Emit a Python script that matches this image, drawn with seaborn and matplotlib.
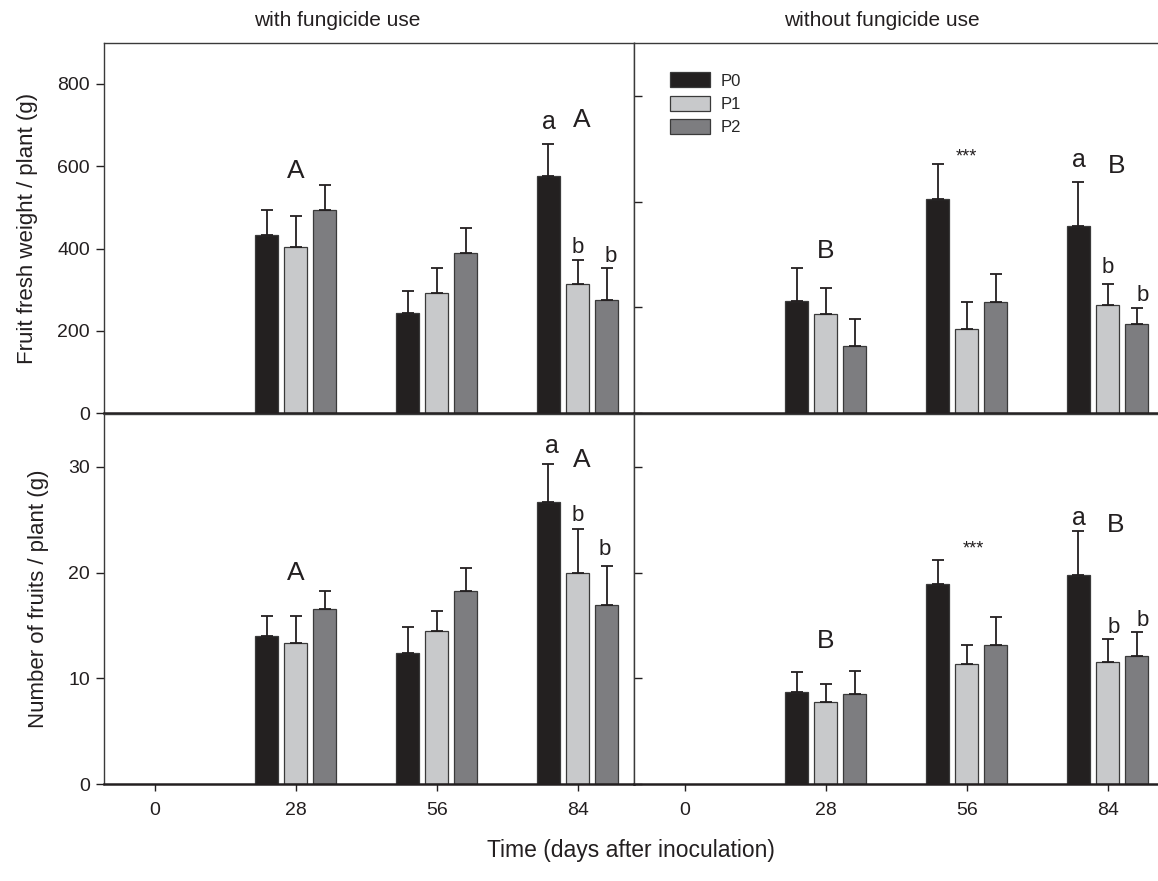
import numpy as np
import pandas as pd
import matplotlib
matplotlib.use("Agg")
import matplotlib.pyplot as plt
from matplotlib.container import BarContainer
import seaborn as sns

# ---------------- data ----------------
days = ["0", "28", "56", "84"]
data_days = ["28", "56", "84"]
groups = ["P0", "P1", "P2"]

# Fruit fresh weight / plant (g), with fungicide
fw_with_P0 = [433, 244, 577]
fw_with_P1 = [404, 292, 314]
fw_with_P2 = [495, 390, 276]
fw_with_P0_err = [61, 54, 78]
fw_with_P1_err = [76, 60, 59]
fw_with_P2_err = [60, 60, 76]

# Fruit fresh weight / plant (g), without fungicide
fw_without_P0 = [274, 520, 455]
fw_without_P1 = [241, 204, 263]
fw_without_P2 = [163, 271, 216]
fw_without_P0_err = [78, 85, 106]
fw_without_P1_err = [64, 66, 52]
fw_without_P2_err = [65, 68, 39]

# Number of fruits / plant, with fungicide
nf_with_P0 = [14.0, 12.4, 26.7]
nf_with_P1 = [13.35, 14.5, 20.0]
nf_with_P2 = [16.55, 18.3, 16.95]
nf_with_P0_err = [1.9, 2.5, 3.6]
nf_with_P1_err = [2.55, 1.9, 4.1]
nf_with_P2_err = [1.75, 2.1, 3.65]

# Number of fruits / plant, without fungicide
nf_without_P0 = [8.7, 18.95, 19.8]
nf_without_P1 = [7.75, 11.4, 11.6]
nf_without_P2 = [8.55, 13.15, 12.15]
nf_without_P0_err = [1.9, 2.2, 4.1]
nf_without_P1_err = [1.75, 1.75, 2.15]
nf_without_P2_err = [2.15, 2.65, 2.2]

# annotation letters: (text, day index, offset in x units, baseline y, kind)
ann_fw_with = [("A", 1, 0.0, 571, "big"), ("a", 3, -0.207, 690, "a"),
               ("A", 3, 0.03, 696, "big"), ("b", 3, 0.0, 390, "b"),
               ("b", 3, 0.235, 368, "b")]
ann_fw_without = [("B", 1, 0.0, 377, "big"), ("***", 2, 0.0, 612, "star"),
                  ("a", 3, -0.207, 599, "a"), ("B", 3, 0.065, 583, "big"),
                  ("b", 3, 0.0, 342, "b"), ("b", 3, 0.25, 274, "b")]
ann_nf_with = [("A", 1, 0.0, 19.3, "big"), ("a", 3, -0.18, 31.25, "a"),
               ("A", 3, 0.03, 30.0, "big"), ("b", 3, 0.0, 24.9, "b"),
               ("b", 3, 0.19, 21.7, "b")]
ann_nf_without = [("B", 1, 0.0, 12.9, "big"), ("***", 2, 0.05, 21.8, "star"),
                  ("a", 3, -0.207, 24.5, "a"), ("B", 3, 0.06, 23.85, "big"),
                  ("b", 3, 0.04, 14.25, "b"), ("b", 3, 0.25, 15.0, "b")]

titles = ["with fungicide use", "without fungicide use"]
ylabels = ["Fruit fresh weight / plant (g)", "Number of fruits / plant (g)"]
xlabel = "Time (days after inoculation)"
top_yticks = [0, 200, 400, 600, 800]
bottom_yticks = [0, 10, 20, 30]
top_ylim = 900
bottom_ylim = 35

# ---------------- style ----------------
sns.set_theme(style="white")
plt.rcParams["font.family"] = ["Liberation Sans", "DejaVu Sans"]
ink = "#231f20"
palette = {"P0": "#231f20", "P1": "#c8c9cb", "P2": "#7c7d81"}
sizes = {"big": 19, "a": 18, "b": 16, "star": 13}


def make_df(p0, p1, p2):
    rows = []
    for g, vals in zip(groups, [p0, p1, p2]):
        for d, v in zip(data_days, vals):
            rows.append({"day": d, "group": g, "value": v})
    return pd.DataFrame(rows)


def draw(ax, means, errs, ann, legend=False):
    df = make_df(*means)
    sns.barplot(data=df, x="day", y="value", hue="group", order=days,
                hue_order=groups, palette=palette, width=0.62, gap=0.2,
                errorbar=None, edgecolor="#3a3a3a", linewidth=0.9,
                ax=ax, legend=legend)
    bar_conts = [c for c in ax.containers if isinstance(c, BarContainer)]
    # error bars (upper only)
    for gi, cont in enumerate(bar_conts):
        for p in cont.patches:
            h = p.get_height()
            if not np.isfinite(h) or h <= 0:
                continue
            xc = p.get_x() + p.get_width() / 2
            di = int(round(xc))
            k = data_days.index(days[di])
            e = errs[gi][k]
            ax.errorbar([xc], [h], yerr=[[0], [e]], fmt="none", ecolor=ink,
                        elinewidth=1.3, capsize=4, capthick=1.3, zorder=3)
    for txt, di, off, yb, kind in ann:
        ax.text(di + off, yb, txt, ha="center", va="baseline",
                fontsize=sizes[kind], color=ink)


fig = plt.figure(figsize=(11.58, 8.81), dpi=100)
FW, FH = 1158.0, 881.0
L = 104 / FW
W = 530 / FW
R0 = 634 / FW
H = 370.5 / FH
top_b = 1 - 413.3 / FH
bot_b = 1 - 784.3 / FH

ax_tl = fig.add_axes([L, top_b, W, H])
ax_tr = fig.add_axes([R0, top_b, W, H])
ax_bl = fig.add_axes([L, bot_b, W, H])
ax_br = fig.add_axes([R0, bot_b, W, H])

draw(ax_tl, (fw_with_P0, fw_with_P1, fw_with_P2),
     (fw_with_P0_err, fw_with_P1_err, fw_with_P2_err), ann_fw_with)
draw(ax_tr, (fw_without_P0, fw_without_P1, fw_without_P2),
     (fw_without_P0_err, fw_without_P1_err, fw_without_P2_err), ann_fw_without,
     legend=True)
draw(ax_bl, (nf_with_P0, nf_with_P1, nf_with_P2),
     (nf_with_P0_err, nf_with_P1_err, nf_with_P2_err), ann_nf_with)
draw(ax_br, (nf_without_P0, nf_without_P1, nf_without_P2),
     (nf_without_P0_err, nf_without_P1_err, nf_without_P2_err), ann_nf_without)

for ax in (ax_tl, ax_tr, ax_bl, ax_br):
    ax.set_xlim(-0.36, 3.4)
    ax.set_xlabel("")
    ax.set_ylabel("")
    for s in ax.spines.values():
        s.set_color("#3a3a3a")
        s.set_linewidth(1.0)
    ax.spines["bottom"].set_color(ink)
    ax.spines["bottom"].set_linewidth(1.8)
    ax.tick_params(colors=ink, labelsize=14, length=6, width=1.0)

for ax in (ax_tl, ax_tr):
    ax.set_ylim(0, top_ylim)
    ax.set_xticks(range(len(days)))
    ax.tick_params(axis="x", bottom=False, labelbottom=False)
for ax in (ax_bl, ax_br):
    ax.set_ylim(0, bottom_ylim)
    ax.set_xticks(range(len(days)))
    ax.set_xticklabels(days)
    ax.tick_params(axis="x", bottom=True, direction="out", length=5, pad=8)

ax_tl.set_yticks(top_yticks)
ax_tl.tick_params(axis="y", left=True, direction="out", pad=4)
ax_bl.set_yticks(bottom_yticks)
ax_bl.tick_params(axis="y", left=True, direction="out", pad=4)

# right panels: unlabeled inward ticks
ax_br.set_yticks(bottom_yticks)
ax_tr.set_yticks(np.array(bottom_yticks) / bottom_ylim * top_ylim)
for ax in (ax_tr, ax_br):
    ax.tick_params(axis="y", left=True, direction="in", labelleft=False, length=6)

ax_tl.set_ylabel(ylabels[0], fontsize=16, color=ink, labelpad=14)
ax_bl.set_ylabel(ylabels[1], fontsize=16, color=ink, labelpad=14)

# legend
handles, labels = ax_tr.get_legend_handles_labels()
if ax_tr.get_legend() is not None:
    ax_tr.get_legend().remove()
ax_tr.legend(handles, labels, loc="upper left", bbox_to_anchor=(0.068, 0.92),
             frameon=False, fontsize=12, handlelength=2.4, handleheight=1.0,
             handletextpad=0.65, labelspacing=0.42, borderpad=0, borderaxespad=0)

fig.text(337 / FW, 1 - 20 / FH, titles[0], ha="center", va="center",
         fontsize=15, color=ink)
fig.text(882 / FW, 1 - 20 / FH, titles[1], ha="center", va="center",
         fontsize=15, color=ink)
fig.text(631 / FW, 1 - 850 / FH, xlabel, ha="center", va="center",
         fontsize=16.5, color=ink)

fig.savefig("out.png", dpi=100)
